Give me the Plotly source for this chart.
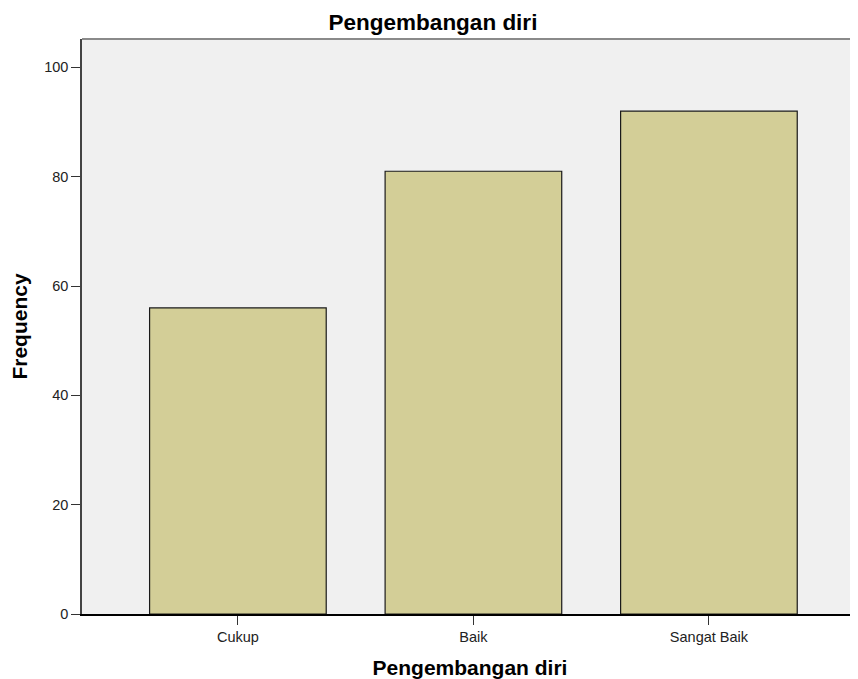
import plotly.graph_objects as go

categories = ["Cukup", "Baik", "Sangat Baik"]
frequency = [56, 81, 92]
y_ticks = [0, 20, 40, 60, 80, 100]

fig = go.Figure()

fig.add_trace(go.Bar(
    x=[0, 1, 2],
    y=frequency,
    width=0.75,
    marker=dict(color="#d3ce97", line=dict(color="#1a1a1a", width=1.2)),
    name="Frequency"
))

# thin grey frame line along the top of the plot area
fig.add_shape(type="line", xref="paper", yref="paper", x0=0, x1=1, y0=1, y1=1,
              line=dict(color="#8a8a8a", width=2))

# page body adds an 8px margin, so the figure is a bit smaller than the window
fig.update_layout(
    width=850,
    height=671,
    margin=dict(l=74, r=0, t=31, b=65),
    paper_bgcolor="white",
    plot_bgcolor="#f0f0f0",
    showlegend=False,
    font=dict(family="Liberation Sans, Arial, sans-serif", color="#222222", size=14.5),
    title=dict(text="<b>Pengembangan diri</b>", x=0.5, xanchor="center",
               y=0.979, yanchor="middle", font=dict(size=22.5, color="black")),
    xaxis=dict(
        range=[-0.662, 2.633],
        tickmode="array",
        tickvals=[0, 1, 2],
        ticktext=categories,
        ticks="outside",
        ticklen=9,
        tickcolor="#333333",
        showline=True,
        linecolor="black",
        linewidth=1.5,
        showgrid=False,
        zeroline=False,
        title=dict(text="<b>Pengembangan diri</b>", font=dict(size=21, color="black"), standoff=16),
    ),
    yaxis=dict(
        range=[0, 105.2],
        tickmode="array",
        tickvals=y_ticks,
        ticks="outside",
        ticklen=9,
        tickcolor="#333333",
        showline=True,
        linecolor="#444444",
        linewidth=1.5,
        showgrid=False,
        zeroline=False,
        title=dict(text="<b>Frequency</b>", font=dict(size=21, color="black"), standoff=12),
    ),
)

fig.write_html("out.html")
